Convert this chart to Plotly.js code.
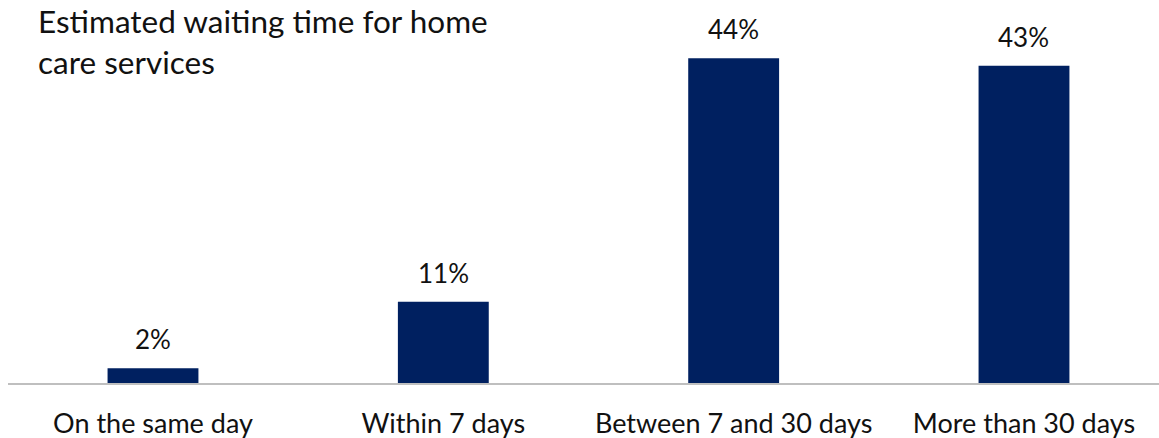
<!DOCTYPE html>
<html>
<head>
<meta charset="utf-8">
<script src="https://cdn.plot.ly/plotly-3.0.1.min.js"></script>
<style>html,body{margin:0;padding:0;background:#fff;}#chart{width:1159px;height:438px;}</style>
</head>
<body>
<div id="chart"></div>
<script>
const categories = ["On the same day", "Within 7 days", "Between 7 and 30 days", "More than 30 days"];
const values = [2, 11, 44, 43];
const valueLabels = ["2%", "11%", "44%", "43%"];
const chartTitle = "Estimated waiting time for home<br>care services";

const FONT = "Lato, 'Open Sans', sans-serif";

const trace = {
  type: "bar",
  x: categories,
  y: values,
  marker: {color: "#002060", line: {width: 0}},
  width: 0.313,
  hoverinfo: "skip"
};

const annotations = categories.map((c, i) => ({
  x: c, y: values[i], xref: "x", yref: "y",
  text: valueLabels[i], showarrow: false,
  yanchor: "bottom", yshift: 11,
  font: {family: FONT, size: 26, color: "#111"}
}));

annotations.push({
  text: chartTitle,
  xref: "paper", yref: "paper",
  x: (36 - 8) / 1151, xanchor: "left",
  y: 1, yanchor: "top", yshift: 0,
  align: "left", showarrow: false,
  font: {family: FONT, size: 31.5, color: "#111"}
});

const layout = {
  width: 1159, height: 438,
  margin: {l: 8, r: 0, t: 0, b: 55},
  paper_bgcolor: "#fff", plot_bgcolor: "#fff",
  showlegend: false,
  xaxis: {
    type: "category",
    range: [-0.4994, 3.465],
    showline: true, linecolor: "#bfbfbf", linewidth: 2,
    showgrid: false, zeroline: false,
    ticks: "outside", ticklen: 16, tickcolor: "rgba(0,0,0,0)",
    tickfont: {family: FONT, size: 27, color: "#111"},
    fixedrange: true
  },
  yaxis: {
    range: [0, 51.9],
    visible: false,
    showgrid: false, zeroline: false,
    fixedrange: true
  },
  annotations: annotations
};

Plotly.newPlot("chart", [trace], layout, {displayModeBar: false, staticPlot: true});
</script>
</body>
</html>
